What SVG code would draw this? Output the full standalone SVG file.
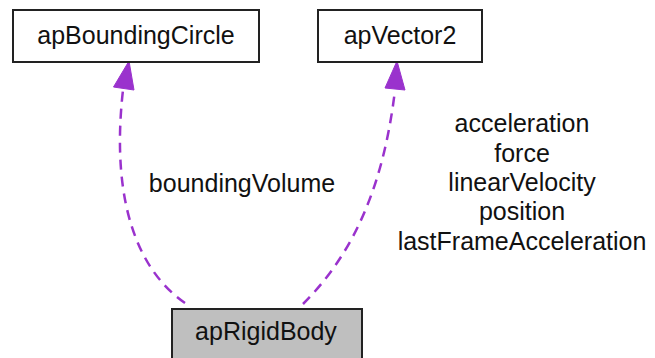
<svg xmlns="http://www.w3.org/2000/svg" width="655" height="358" viewBox="0 0 655 358">
<style>
text{font-family:"Liberation Sans",Arial,sans-serif;font-size:25px;fill:#111;text-anchor:middle}
.box{fill:#fff;stroke:#222;stroke-width:2}
.cur{fill:#bfbfbf;stroke:#222;stroke-width:2}
.edge{fill:none;stroke:#9a32cd;stroke-width:2.5;stroke-dasharray:10 7}
.head{fill:#9a32cd;stroke:#9a32cd;stroke-width:1}
</style>
<rect width="655" height="358" fill="#fff"/>
<g id="connectors">
<path class="edge" d="M185,303 C140,272 110,205 123,90"/>
<polygon class="head" points="129,61 113.5,87 134,90"/>
<path class="edge" d="M303,304 C345,262 382,200 395,90"/>
<polygon class="head" points="397,61 385,88 405,90"/>
<text x="242" y="192">boundingVolume</text>
<text x="522" y="132">acceleration</text>
<text x="522" y="162">force</text>
<text x="522" y="191">linearVelocity</text>
<text x="522" y="220">position</text>
<text x="522" y="250">lastFrameAcceleration</text>
</g>
<g id="apBoundingCircle">
<rect class="box" x="13" y="10" width="246" height="52"/>
<text x="136" y="44">apBoundingCircle</text>
</g>
<g id="apVector2">
<rect class="box" x="318" y="10" width="164" height="52"/>
<text x="400" y="44">apVector2</text>
</g>
<g id="apRigidBody">
<rect class="cur" x="172" y="309" width="190" height="60"/>
<text x="266" y="340">apRigidBody</text>
</g>
</svg>
